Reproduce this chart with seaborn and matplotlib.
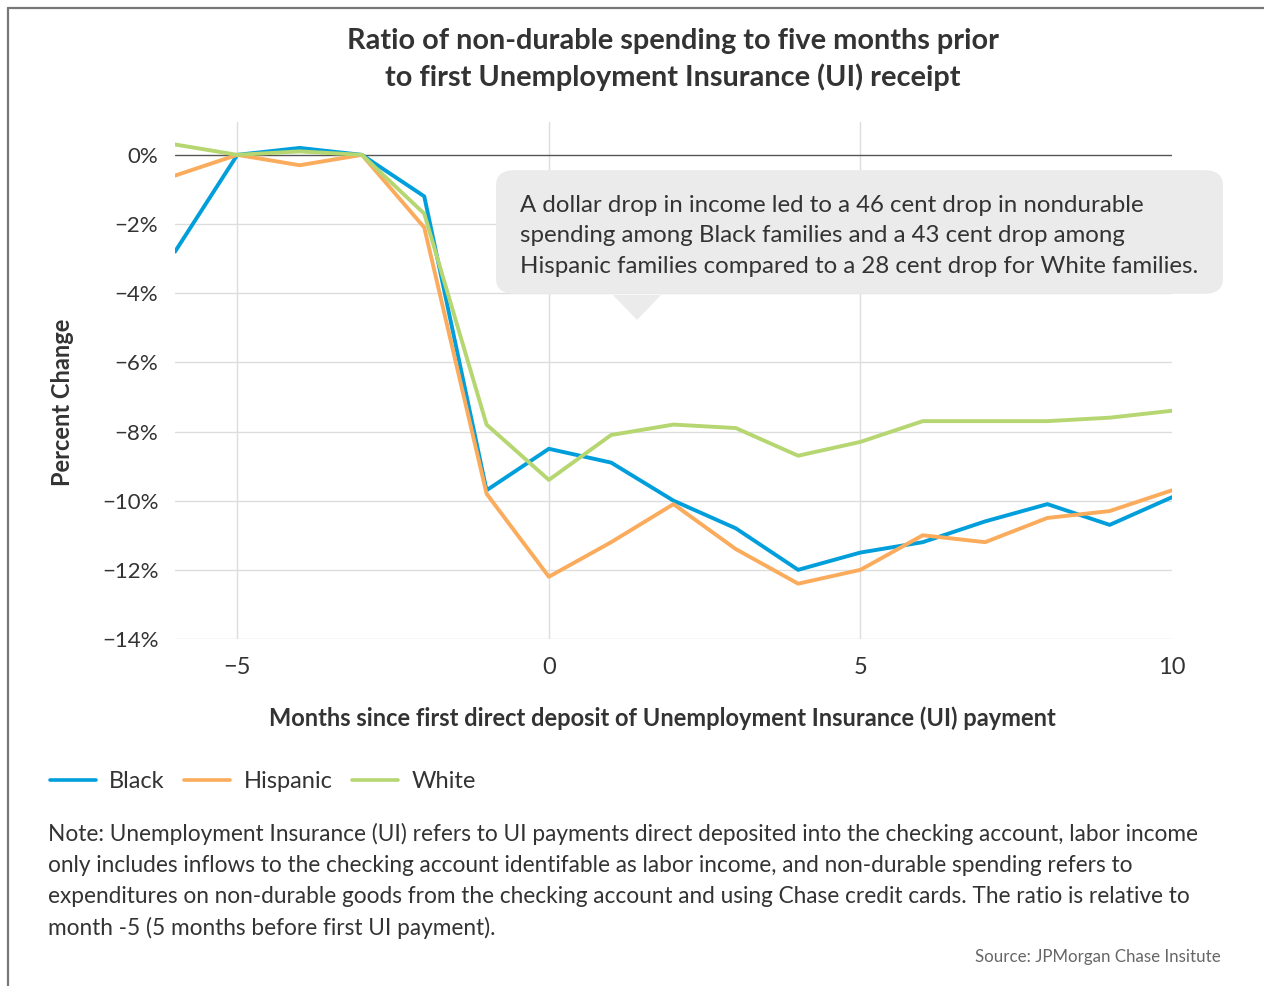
import matplotlib
matplotlib.use("Agg")
import matplotlib.pyplot as plt
import seaborn as sns
import pandas as pd
from matplotlib.patches import FancyBboxPatch, Polygon
from matplotlib.lines import Line2D
from matplotlib.ticker import FuncFormatter

months = list(range(-6, 11))
black = [-2.8, 0.0, 0.2, 0.0, -1.2, -9.7, -8.5, -8.9, -10.0, -10.8, -12.0, -11.5, -11.2, -10.6, -10.1, -10.7, -9.9]
hispanic = [-0.6, 0.0, -0.3, 0.0, -2.1, -9.8, -12.2, -11.2, -10.1, -11.4, -12.4, -12.0, -11.0, -11.2, -10.5, -10.3, -9.7]
white = [0.3, 0.0, 0.1, 0.0, -1.7, -7.8, -9.4, -8.1, -7.8, -7.9, -8.7, -8.3, -7.7, -7.7, -7.7, -7.6, -7.4]
series_names = ["Black", "Hispanic", "White"]
colors = ["#009fdb", "#fbab5c", "#b5d670"]
y_ticks = [0, -2, -4, -6, -8, -10, -12, -14]
x_ticks = [-5, 0, 5, 10]

title = "Ratio of non-durable spending to five months prior\nto first Unemployment Insurance (UI) receipt"
xlabel = "Months since first direct deposit of Unemployment Insurance (UI) payment"
ylabel = "Percent Change"
annotation = ("A dollar drop in income led to a 46 cent drop in nondurable\n"
              "spending among Black families and a 43 cent drop among\n"
              "Hispanic families compared to a 28 cent drop for White families.")
note = ("Note: Unemployment Insurance (UI) refers to UI payments direct deposited into the checking account, labor income\n"
        "only includes inflows to the checking account identifable as labor income, and non-durable spending refers to\n"
        "expenditures on non-durable goods from the checking account and using Chase credit cards. The ratio is relative to\n"
        "month -5 (5 months before first UI payment).")
source = "Source: JPMorgan Chase Insitute"

df = pd.DataFrame({
    "month": months * 3,
    "value": black + hispanic + white,
    "group": ["Black"] * len(months) + ["Hispanic"] * len(months) + ["White"] * len(months),
})

sns.set_theme(style="white")
plt.rcParams["font.family"] = ["Lato", "DejaVu Sans"]

W, H = 1264, 986
fig = plt.figure(figsize=(W / 100, H / 100), dpi=100)

def fx(x):
    return x / W

def fy(y):
    return 1 - y / H

ax = fig.add_axes([fx(175), fy(639), fx(1172) - fx(175), fy(122) - fy(639)])

sns.lineplot(data=df, x="month", y="value", hue="group", hue_order=series_names,
             palette=colors, linewidth=2.8, ax=ax, legend=False, zorder=3)

ax.set_xlim(-6, 10)
ax.set_ylim(-14, 0.95)
ax.set_yticks(y_ticks)
ax.set_xticks(x_ticks)
ax.yaxis.set_major_formatter(FuncFormatter(lambda v, p: ("\u2212" if v < 0 else "") + f"{abs(v):.0f}%"))
for s in ax.spines.values():
    s.set_visible(False)
ax.grid(False)
for v in y_ticks:
    if v == 0:
        ax.axhline(v, color="#555555", lw=1.0, zorder=2)
    else:
        ax.axhline(v, color="#dddddd", lw=1.0, zorder=1)
for v in x_ticks[:-1]:
    ax.axvline(v, color="#dddddd", lw=1.0, zorder=1)
ax.tick_params(axis="y", length=0, labelsize=16, labelcolor="#333333", pad=12)
ax.tick_params(axis="x", length=0, labelsize=17, labelcolor="#333333", pad=13)
ax.set_xlabel("")
ax.set_ylabel("")

fig.text(fx(662), fy(718), xlabel, ha="center", va="center", fontsize=17, fontweight="bold", color="#333333")
fig.text(fx(62), fy(402), ylabel, ha="center", va="center", rotation=90, fontsize=17, fontweight="bold", color="#333333")
fig.text(fx(673), fy(59.5), title, ha="center", va="center", fontsize=20.8, fontweight="bold", color="#333333", linespacing=1.4)

# annotation bubble
box = FancyBboxPatch((fx(510), fy(283)), fx(1209) - fx(510), fy(181) - fy(283),
                     boxstyle="round,pad=0.011,rounding_size=0.015", transform=fig.transFigure,
                     facecolor="#ebebeb", edgecolor="none", zorder=5)
fig.add_artist(box)
tri = Polygon([(fx(613), fy(295)), (fx(661), fy(295)), (fx(637), fy(320))], closed=True,
              transform=fig.transFigure, facecolor="#ebebeb", edgecolor="none", zorder=5)
fig.add_artist(tri)
fig.text(fx(520), fy(236), annotation, ha="left", va="center", fontsize=17.3, color="#333333",
         linespacing=1.55, zorder=6)

# legend
handles = [Line2D([0], [0], color=c, lw=2.6) for c in colors]
fig.legend(handles, series_names, loc="center left", bbox_to_anchor=(fx(45), fy(782)), ncol=3,
           frameon=False, fontsize=17, handlelength=1.95, columnspacing=0.85, handletextpad=0.55,
           borderpad=0.2, borderaxespad=0, labelcolor="#333333")

fig.text(fx(48), fy(881), note, ha="left", va="center", fontsize=16.3, color="#333333", linespacing=1.58)
fig.text(fx(1221), fy(957), source, ha="right", va="center", fontsize=12.2, color="#666666")

# frame
fig.add_artist(Line2D([fx(8), fx(8)], [fy(8), 0], transform=fig.transFigure, color="#777777", lw=1.6))
fig.add_artist(Line2D([fx(8), 1], [fy(8), fy(8)], transform=fig.transFigure, color="#777777", lw=1.6))

fig.savefig("out.png", dpi=100)
